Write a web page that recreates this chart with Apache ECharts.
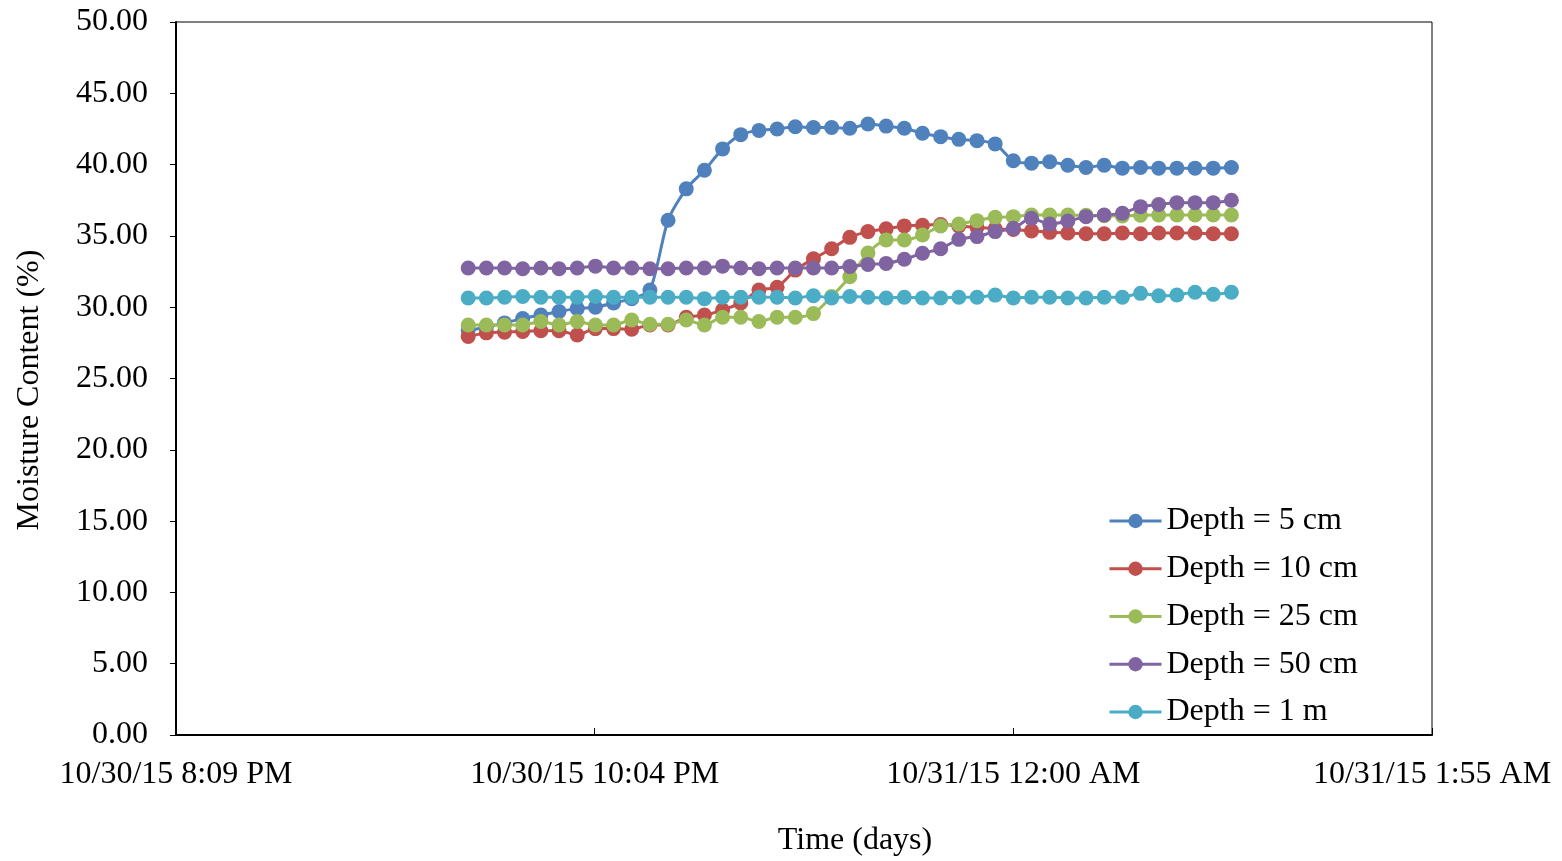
<!DOCTYPE html>
<html>
<head>
<meta charset="utf-8">
<title>Moisture Content by Depth</title>
<script src="https://cdn.jsdelivr.net/npm/echarts@6/dist/echarts.min.js"></script>
<style>
  html, body { margin: 0; padding: 0; background: #ffffff; }
  #chart { width: 1562px; height: 861px; }
</style>
</head>
<body>
<div id="chart"></div>
<script>
// Readings every 5 minutes, 10/30/15 21:30 through 10/31/15 01:00
const times = [
  '21:30', '21:35', '21:40', '21:45', '21:50', '21:55', '22:00', '22:05', '22:10', '22:15', '22:20',
  '22:25', '22:30', '22:35', '22:40', '22:45', '22:50', '22:55', '23:00', '23:05', '23:10', '23:15',
  '23:20', '23:25', '23:30', '23:35', '23:40', '23:45', '23:50', '23:55', '00:00', '00:05', '00:10',
  '00:15', '00:20', '00:25', '00:30', '00:35', '00:40', '00:45', '00:50', '00:55', '01:00'
];

const depth5cm = [
  28.4, 28.6, 28.9, 29.2, 29.45, 29.7, 29.9, 30.0, 30.3, 30.6, 31.2,
  36.1, 38.3, 39.6, 41.1, 42.1, 42.4, 42.5, 42.65, 42.6, 42.6, 42.55,
  42.85, 42.7, 42.55, 42.2, 41.96, 41.77, 41.68, 41.45, 40.27, 40.1, 40.2,
  39.95, 39.8, 39.95, 39.75, 39.8, 39.75, 39.75, 39.75, 39.75, 39.8
];
const depth10cm = [
  27.95, 28.2, 28.25, 28.3, 28.35, 28.35, 28.05, 28.5, 28.5, 28.45, 28.75,
  28.75, 29.3, 29.45, 29.8, 30.3, 31.2, 31.4, 32.6, 33.4, 34.1, 34.9,
  35.3, 35.5, 35.7, 35.75, 35.8, 35.7, 35.6, 35.5, 35.45, 35.35, 35.25,
  35.2, 35.15, 35.15, 35.2, 35.15, 35.2, 35.2, 35.2, 35.15, 35.15
];
const depth25cm = [
  28.75, 28.75, 28.75, 28.75, 29.0, 28.75, 29.0, 28.75, 28.75, 29.1, 28.8,
  28.8, 29.1, 28.75, 29.3, 29.3, 29.0, 29.3, 29.3, 29.55, 30.75, 32.14,
  33.8, 34.72, 34.72, 35.06, 35.69, 35.83, 36.07, 36.3, 36.35, 36.47, 36.47,
  36.47, 36.45, 36.42, 36.4, 36.45, 36.47, 36.47, 36.47, 36.47, 36.47
];
const depth50cm = [
  32.75, 32.75, 32.75, 32.7, 32.75, 32.7, 32.75, 32.88, 32.75, 32.75, 32.7,
  32.7, 32.75, 32.75, 32.88, 32.75, 32.7, 32.75, 32.75, 32.75, 32.75, 32.85,
  33.0, 33.07, 33.36, 33.78, 34.1, 34.76, 34.95, 35.3, 35.53, 36.23, 35.83,
  36.04, 36.35, 36.47, 36.58, 37.05, 37.2, 37.33, 37.33, 37.33, 37.5
];
const depth1m = [
  30.65, 30.65, 30.7, 30.75, 30.7, 30.7, 30.7, 30.75, 30.7, 30.7, 30.7,
  30.7, 30.7, 30.6, 30.7, 30.7, 30.7, 30.7, 30.65, 30.8, 30.65, 30.75,
  30.7, 30.65, 30.7, 30.65, 30.65, 30.7, 30.7, 30.85, 30.65, 30.7, 30.7,
  30.65, 30.65, 30.7, 30.7, 30.97, 30.8, 30.86, 31.05, 30.9, 31.05
];

const seriesNames = ['Depth = 5 cm', 'Depth = 10 cm', 'Depth = 25 cm', 'Depth = 50 cm', 'Depth = 1 m'];
const seriesColors = ['#4F81BD', '#C0504D', '#9BBB59', '#8064A2', '#4BACC6'];
const seriesValues = [depth5cm, depth10cm, depth25cm, depth50cm, depth1m];

// x positions are in hundredths of a day, measured from 10/31/15 12:00 AM
function toAxisUnits(hhmm) {
  const [h, m] = hhmm.split(':').map(Number);
  let minutes = h * 60 + m;
  if (h >= 12) minutes -= 1440; // evening of the previous day
  return minutes / 14.4;
}

const FONT = '"Liberation Serif", "Times New Roman", serif';
const FS = 32;

function formatTick(v) {
  const base = Date.UTC(2015, 9, 31, 0, 0, 0);
  const seconds = Math.round(v * 14.4 * 60);
  const d = new Date(base + seconds * 1000);
  const mo = d.getUTCMonth() + 1;
  const da = d.getUTCDate();
  const yy = String(d.getUTCFullYear()).slice(2);
  let h = d.getUTCHours();
  const mi = d.getUTCMinutes();
  const ampm = h >= 12 ? 'PM' : 'AM';
  h = h % 12; if (h === 0) h = 12;
  return mo + '/' + da + '/' + yy + ' ' + h + ':' + String(mi).padStart(2, '0') + ' ' + ampm;
}

const chart = echarts.init(document.getElementById('chart'), null, { renderer: 'canvas' });

const option = {
  backgroundColor: '#ffffff',
  animation: false,
  grid: {
    left: 176, right: 130, top: 22, bottom: 126,
    show: true, borderColor: '#000000', borderWidth: 1, backgroundColor: 'transparent'
  },
  legend: {
    orient: 'vertical',
    left: 1108, top: 504,
    padding: 0,
    itemWidth: 52, itemHeight: 18, itemGap: 13.75,
    lineStyle: { width: 3 },
    textStyle: { fontFamily: FONT, fontSize: FS, color: '#000000', lineHeight: 34 },
    data: seriesNames
  },
  xAxis: {
    type: 'value',
    min: -16, max: 8, interval: 8,
    axisLine: { show: true, onZero: false, lineStyle: { color: '#000000', width: 2 } },
    axisTick: { show: true, inside: true, length: 7, lineStyle: { color: '#000000', width: 1 } },
    axisLabel: {
      show: true, margin: 24, fontFamily: FONT, fontSize: FS, color: '#000000',
      showMinLabel: true, showMaxLabel: true,
      formatter: formatTick
    },
    splitLine: { show: false }
  },
  yAxis: {
    type: 'value',
    min: 0, max: 50, interval: 5,
    axisLine: { show: true, onZero: false, lineStyle: { color: '#000000', width: 2 } },
    axisTick: { show: true, inside: false, length: 6, lineStyle: { color: '#000000', width: 1 } },
    axisLabel: {
      margin: 28, fontFamily: FONT, fontSize: FS, color: '#000000',
      formatter: v => v.toFixed(2)
    },
    splitLine: { show: false }
  },
  graphic: [
    {
      type: 'text', x: 855, y: 841,
      style: { text: 'Time (days)', fontFamily: FONT, fontSize: FS, fill: '#000000', textAlign: 'center', textVerticalAlign: 'middle' }
    },
    {
      type: 'text', x: 30, y: 390, rotation: Math.PI / 2,
      style: { text: 'Moisture Content (%)', fontFamily: FONT, fontSize: FS, fill: '#000000', textAlign: 'center', textVerticalAlign: 'middle' }
    }
  ],
  series: seriesNames.map((name, k) => ({
    name: name,
    type: 'line',
    data: times.map((t, i) => [toAxisUnits(t), seriesValues[k][i]]),
    smooth: 0.25,
    symbol: 'circle',
    symbolSize: 15,
    showSymbol: true,
    color: seriesColors[k],
    lineStyle: { width: 3, color: seriesColors[k] },
    itemStyle: { color: seriesColors[k] }
  }))
};

chart.setOption(option);
</script>
</body>
</html>
